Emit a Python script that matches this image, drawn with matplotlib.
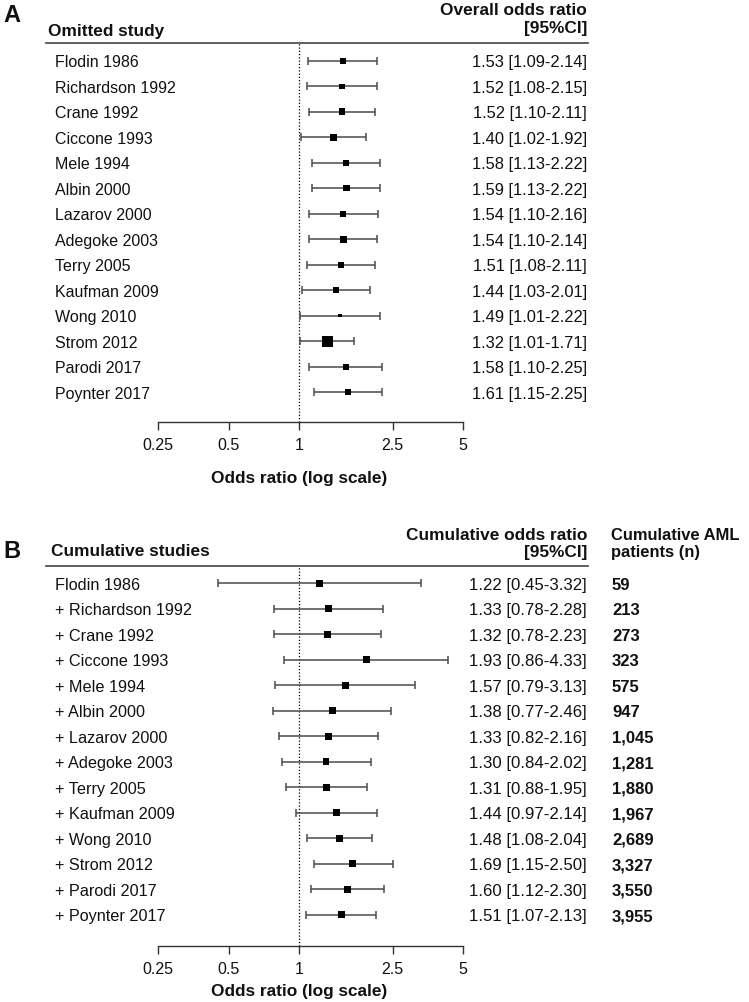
import numpy as np
import matplotlib
matplotlib.use('Agg')
import matplotlib.pyplot as plt
import matplotlib.transforms as mtrans
from matplotlib.lines import Line2D
from matplotlib.ticker import NullLocator

plt.rcParams['font.family'] = ['Liberation Sans', 'DejaVu Sans']

# panel A - leave one out
studies_a = ['Flodin 1986', 'Richardson 1992', 'Crane 1992', 'Ciccone 1993', 'Mele 1994',
             'Albin 2000', 'Lazarov 2000', 'Adegoke 2003', 'Terry 2005', 'Kaufman 2009',
             'Wong 2010', 'Strom 2012', 'Parodi 2017', 'Poynter 2017']
or_a = [1.53, 1.52, 1.52, 1.40, 1.58, 1.59, 1.54, 1.54, 1.51, 1.44, 1.49, 1.32, 1.58, 1.61]
lo_a = [1.09, 1.08, 1.10, 1.02, 1.13, 1.13, 1.10, 1.10, 1.08, 1.03, 1.01, 1.01, 1.10, 1.15]
hi_a = [2.14, 2.15, 2.11, 1.92, 2.22, 2.22, 2.16, 2.14, 2.11, 2.01, 2.22, 1.71, 2.25, 2.25]
# relative box weight
wt_a = [1.0, 0.85, 1.1, 1.2, 1.0, 1.0, 0.95, 1.1, 1.0, 1.0, 0.55, 1.85, 1.0, 1.0]

# panel B - cumulative
studies_b = ['Flodin 1986', '+ Richardson 1992', '+ Crane 1992', '+ Ciccone 1993', '+ Mele 1994',
             '+ Albin 2000', '+ Lazarov 2000', '+ Adegoke 2003', '+ Terry 2005', '+ Kaufman 2009',
             '+ Wong 2010', '+ Strom 2012', '+ Parodi 2017', '+ Poynter 2017']
or_b = [1.22, 1.33, 1.32, 1.93, 1.57, 1.38, 1.33, 1.30, 1.31, 1.44, 1.48, 1.69, 1.60, 1.51]
lo_b = [0.45, 0.78, 0.78, 0.86, 0.79, 0.77, 0.82, 0.84, 0.88, 0.97, 1.08, 1.15, 1.12, 1.07]
hi_b = [3.32, 2.28, 2.23, 4.33, 3.13, 2.46, 2.16, 2.02, 1.95, 2.14, 2.04, 2.50, 2.30, 2.13]
n_b = [59, 213, 273, 323, 575, 947, 1045, 1281, 1880, 1967, 2689, 3327, 3550, 3955]

ticks = [0.25, 0.5, 1, 2.5, 5]
tick_labels = ['0.25', '0.5', '1', '2.5', '5']

W, H = 749, 1003
fig = plt.figure(figsize=(W / 100, H / 100), dpi=100)
TXT = '#111111'
GREY = '#4a4a4a'


def fx(x):
    return x / W


def fy(y):
    return 1 - y / H


def forest(top, bottom, row0, step, est, lo, hi, labels, box, lab_size, val_size, xlab_y):
    ax = fig.add_axes([fx(158.2), fy(bottom), fx(463.1) - fx(158.2), (bottom - top) / H])
    n = len(est)
    y = np.arange(n)
    est = np.array(est)
    lo = np.array(lo)
    hi = np.array(hi)
    ax.set_xscale('log')
    ax.set_xlim(0.25, 5)
    ax.set_ylim((bottom - row0) / step, (top - row0) / step)
    ax.axvline(1, color='k', lw=0.9, ls=(0, (1, 1.6)), zorder=1)
    ax.errorbar(est, y, xerr=[est - lo, hi - est], fmt='none', ecolor=GREY,
                elinewidth=1.1, capsize=3, capthick=1.1, zorder=2)
    ax.scatter(est, y, marker='s', s=np.array(box) ** 2, color='k', zorder=3, linewidths=0)
    for s in ['top', 'left', 'right']:
        ax.spines[s].set_visible(False)
    ax.spines['bottom'].set_color('#333333')
    ax.spines['bottom'].set_linewidth(1.0)
    ax.set_yticks([])
    ax.set_xticks(ticks)
    ax.set_xticklabels(tick_labels)
    ax.xaxis.set_minor_locator(NullLocator())
    ax.tick_params(axis='x', direction='out', length=6, width=1, color='#333333',
                   pad=5, labelsize=11.5, labelcolor=TXT)
    tr = mtrans.blended_transform_factory(fig.transFigure, ax.transData)
    for i in range(n):
        ax.text(fx(55), i + 0.22, labels[i], transform=tr, fontsize=lab_size,
                color=TXT, va='baseline', ha='left')
        ax.text(fx(587), i + 0.22, f'{est[i]:.2f} [{lo[i]:.2f}-{hi[i]:.2f}]', transform=tr,
                fontsize=val_size, color=TXT, va='baseline', ha='right')
    trx = mtrans.blended_transform_factory(ax.transData, fig.transFigure)
    ax.text(1, fy(xlab_y), 'Odds ratio (log scale)', transform=trx, ha='center', va='center',
            fontsize=12.4, fontweight='bold', color=TXT)
    fig.add_artist(Line2D([fx(45.7), fx(588)], [fy(top), fy(top)], color='#444444', lw=1.2))
    return ax, tr


# panel A
ax_a, tr_a = forest(44.3, 423, 61.7, 25.5, or_a, lo_a, hi_a, studies_a,
                    [4.4 * w for w in wt_a], 11.5, 11.9, 478)
fig.text(fx(3), fy(21.5), 'A', fontsize=17, fontweight='bold', color=TXT, va='baseline')
fig.text(fx(48.3), fy(36), 'Omitted study', fontsize=12.4, fontweight='bold', color=TXT,
         va='baseline')
fig.text(fx(587), fy(15), 'Overall odds ratio', fontsize=12.4, fontweight='bold', color=TXT,
         va='baseline', ha='right')
fig.text(fx(587), fy(33), '[95%CI]', fontsize=12.4, fontweight='bold', color=TXT,
         va='baseline', ha='right')

# panel B
ax_b, tr_b = forest(566.7, 946.7, 584.3, 25.5, or_b, lo_b, hi_b, studies_b,
                    [5.0] * len(or_b), 11.7, 12.1, 992)
for i, n in enumerate(n_b):
    ax_b.text(fx(612), i + 0.22, f'{n:,}', transform=tr_b, fontsize=12, fontweight='bold',
              color=TXT, va='baseline', ha='left')
fig.text(fx(3), fy(557.5), 'B', fontsize=17, fontweight='bold', color=TXT, va='baseline')
fig.text(fx(50.7), fy(555.7), 'Cumulative studies', fontsize=12.4, fontweight='bold',
         color=TXT, va='baseline')
fig.text(fx(587), fy(539.5), 'Cumulative odds ratio', fontsize=12.4, fontweight='bold',
         color=TXT, va='baseline', ha='right')
fig.text(fx(587), fy(557), '[95%CI]', fontsize=12.4, fontweight='bold', color=TXT,
         va='baseline', ha='right')
fig.text(fx(611), fy(539.5), 'Cumulative AML', fontsize=11.9, fontweight='bold', color=TXT,
         va='baseline', ha='left')
fig.text(fx(611), fy(557), 'patients (n)', fontsize=11.9, fontweight='bold', color=TXT,
         va='baseline', ha='left')

fig.savefig('out.png', dpi=100)
